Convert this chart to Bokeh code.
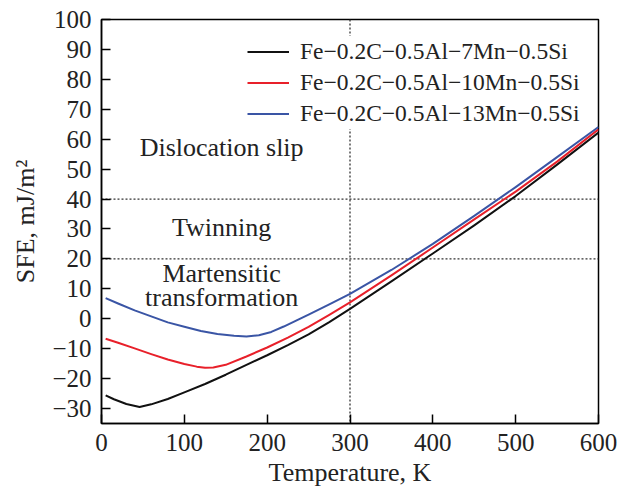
from bokeh.plotting import figure
from bokeh.models import (Range1d, FixedTicker, Span, Legend, LegendItem,
                          CustomJSTickFormatter, ColumnDataSource)
from bokeh.embed import file_html
from bokeh.resources import INLINE
from bokeh.core.properties import value

# ---- data ----
T_7mn = [5, 15, 30, 46, 60, 80, 100, 125, 150, 175, 200, 225, 250, 275, 300,
         350, 400, 450, 500, 550, 600]
sfe_7mn = [-25.6, -26.9, -28.5, -29.5, -28.6, -26.8, -24.6, -21.8, -18.7, -15.4, -12.2,
           -8.8, -5.2, -1.1, 3.3, 12.5, 21.8, 31.2, 41.0, 51.5, 62.2]

T_10mn = [5, 20, 40, 60, 80, 100, 115, 125, 135, 150, 175, 200, 225, 250, 275, 300,
          350, 400, 450, 500, 550, 600]
sfe_10mn = [-6.7, -8.0, -9.9, -11.8, -13.6, -15.1, -16.0, -16.4, -16.3, -15.4, -12.6,
            -9.6, -6.3, -2.7, 1.3, 5.5, 14.5, 23.8, 33.2, 42.5, 52.5, 63.3]

T_13mn = [5, 20, 40, 60, 80, 100, 120, 140, 160, 175, 190, 205, 220, 235, 250, 275, 300,
          350, 400, 450, 500, 550, 600]
sfe_13mn = [6.9, 5.1, 2.8, 0.8, -1.2, -2.7, -4.1, -5.1, -5.7, -5.9, -5.5, -4.4, -2.6,
            -0.6, 1.4, 4.8, 8.3, 16.3, 25.0, 34.4, 44.0, 54.0, 64.1]

series_labels = ["Fe\u22120.2C\u22120.5Al\u22127Mn\u22120.5Si",
                 "Fe\u22120.2C\u22120.5Al\u221210Mn\u22120.5Si",
                 "Fe\u22120.2C\u22120.5Al\u221213Mn\u22120.5Si"]
series_colors = ["#111111", "#e8202a", "#3a55a5"]

x_ticks = [0, 100, 200, 300, 400, 500, 600]
y_ticks = [-30, -20, -10, 0, 10, 20, 30, 40, 50, 60, 70, 80, 90, 100]

ref_T = [300]          # vertical dotted line
ref_sfe = [20, 40]     # horizontal dotted lines

region_text = ["Dislocation slip", "Twinning", "Martensitic", "transformation"]
region_x = [145, 145, 145, 145]
region_y = [57.2, 30.5, 15.0, 7.2]

FONT = "Liberation Serif"

p = figure(width=618, height=493, output_backend="svg", toolbar_location=None,
           x_range=Range1d(0, 600), y_range=Range1d(-35, 100),
           frame_width=497, frame_height=404,
           min_border_left=101, min_border_right=20, min_border_top=19, min_border_bottom=70)
p.xgrid.visible = False
p.ygrid.visible = False
p.outline_line_color = "black"
p.outline_line_width = 1.5
p.background_fill_color = "white"
p.border_fill_color = "white"

for dim, locs in (("height", ref_T), ("width", ref_sfe)):
    for loc in locs:
        p.add_layout(Span(location=loc, dimension=dim, line_color="#333333",
                          line_width=1.3, line_dash="2 2", level="underlay"))

renderers = []
for xs, ys, c in ((T_7mn, sfe_7mn, series_colors[0]),
                  (T_10mn, sfe_10mn, series_colors[1]),
                  (T_13mn, sfe_13mn, series_colors[2])):
    r = p.line(xs, ys, line_color=c, line_width=2, line_join="round")
    renderers.append(r)

src = ColumnDataSource(dict(x=region_x, y=region_y, t=region_text))
p.text(x="x", y="y", text="t", source=src, text_align="center", text_baseline="middle",
       text_font=value(FONT), text_font_size="26px", text_color="#222222")

minus_fmt = CustomJSTickFormatter(code="return tick < 0 ? '\u2212' + Math.abs(tick) : String(tick);")

for ax, ticks in ((p.xaxis[0], x_ticks), (p.yaxis[0], y_ticks)):
    ax.ticker = FixedTicker(ticks=ticks)
    ax.minor_tick_line_color = None
    ax.major_tick_in = 9
    ax.major_tick_out = 0
    ax.major_tick_line_width = 1.5
    ax.axis_line_width = 1.5
    ax.major_label_text_font = FONT
    ax.major_label_text_font_size = "25px"
    ax.major_label_text_color = "#222222"
    ax.axis_label_text_font = FONT
    ax.axis_label_text_font_size = "26px"
    ax.axis_label_text_font_style = "normal"
    ax.axis_label_text_color = "#222222"
    ax.formatter = minus_fmt

p.xaxis.axis_label = "Temperature, K"
p.yaxis.axis_label = "SFE, mJ/m\u00b2"
p.xaxis.major_label_standoff = 10
p.yaxis.major_label_standoff = 10
p.xaxis.axis_label_standoff = 4
p.yaxis.axis_label_standoff = 9

items = [LegendItem(label=value(lab), renderers=[r]) for lab, r in zip(series_labels, renderers)]
legend = Legend(items=items, location=(146, 294), glyph_width=42, glyph_height=31,
                label_height=31, spacing=0, padding=3, label_standoff=11, margin=0,
                label_text_font=FONT, label_text_font_size="23.5px", label_text_color="#222222",
                background_fill_color="white", background_fill_alpha=1.0,
                border_line_color=None)
p.add_layout(legend)

open("out.html", "w").write(file_html(p, INLINE))
